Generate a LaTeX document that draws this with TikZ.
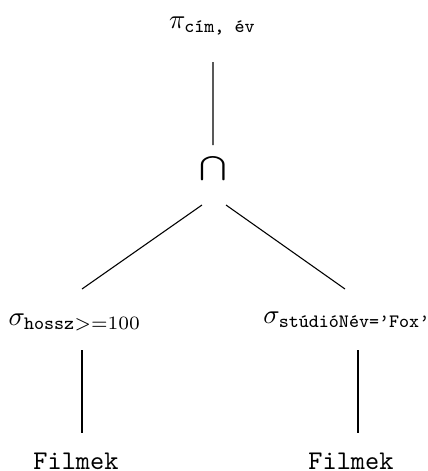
\documentclass[tikz,border=0pt]{standalone}
\usepackage{amsmath}
\usepackage{graphicx}
\usetikzlibrary{calc}
\begin{document}
\begin{tikzpicture}[x=0.37037pt,y=-0.37037pt,
  lbl/.style={inner sep=0pt,anchor=base},
  edge/.style={line width=0.4pt}]
\useasboundingbox (0,0) rectangle (428,471);
\node[lbl] (pi) at (212.5,28) {$\pi_{\texttt{cím, év}}$};
\node[inner sep=0pt] (cap) at (213.5,169) {\scalebox{1.22}[0.9]{$\bigcap$}};
\node[lbl] (sl) at (75,325) {$\sigma_{\texttt{hossz}>=100}$};
\node[lbl] (sr) at (347,323) {$\sigma_{\texttt{stúdióNév=’Fox’}}$};
\node[lbl] (fl) at (76,469) {\texttt{Filmek}};
\node[lbl] (fr) at (351,469) {\texttt{Filmek}};
\draw[edge] ($(pi.base)+(0.5,34)$) -- ($(cap.center)+(-0.5,-24)$);
\draw[edge] ($(cap.center)+(-11.5,36)$) -- ($(sl.base)+(7,-36)$);
\draw[edge] ($(cap.center)+(12.5,36)$) -- ($(sr.base)+(-2,-34)$);
\draw[edge] ($(sl.base)+(7,25)$) -- ($(fl.base)+(6,-36)$);
\draw[edge] ($(sr.base)+(11,27)$) -- ($(fr.base)+(7,-36)$);
\end{tikzpicture}
\end{document}
